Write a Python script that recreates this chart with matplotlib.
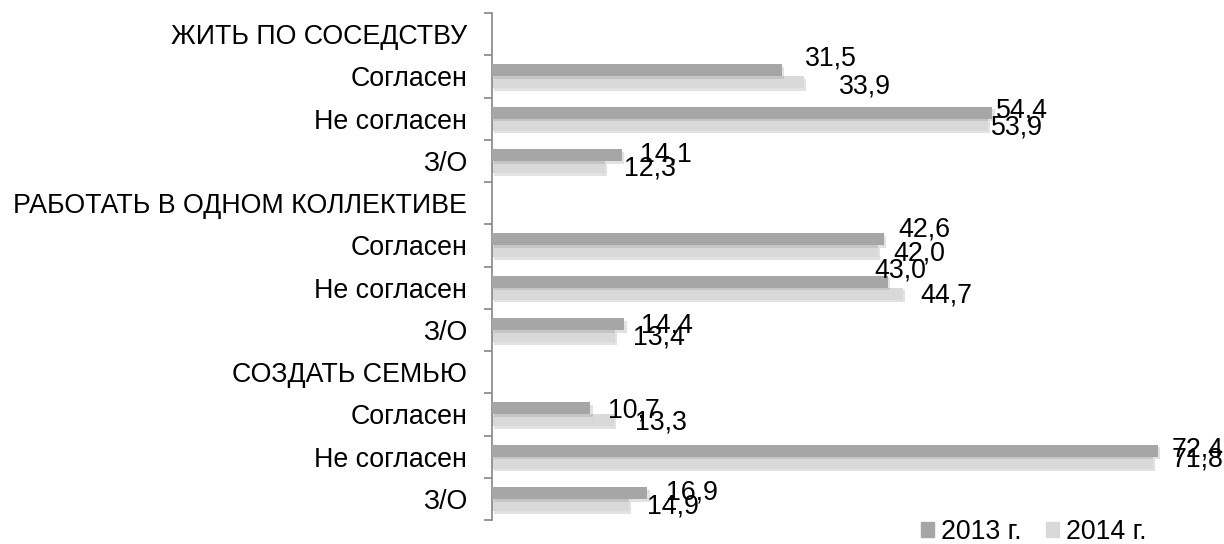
import numpy as np
import matplotlib
matplotlib.use('Agg')
import matplotlib.pyplot as plt
import matplotlib.patheffects as pe
from matplotlib.patches import Patch

plt.rcParams['font.family'] = ['Liberation Sans', 'DejaVu Sans']

categories = ['ЖИТЬ ПО СОСЕДСТВУ', 'Согласен', 'Не согласен', 'З/О',
              'РАБОТАТЬ В ОДНОМ КОЛЛЕКТИВЕ', 'Согласен', 'Не согласен', 'З/О',
              'СОЗДАТЬ СЕМЬЮ', 'Согласен', 'Не согласен', 'З/О']
v2013 = [np.nan, 31.5, 54.4, 14.1, np.nan, 42.6, 43.0, 14.4, np.nan, 10.7, 72.4, 16.9]
v2014 = [np.nan, 33.9, 53.9, 12.3, np.nan, 42.0, 44.7, 13.4, np.nan, 13.3, 71.8, 14.9]
series_names = ['2013 г.', '2014 г.']

# label nudges in pixels (x right, y up), only for rows with bars
dx13 = [23, 3, 18, 14, -13, 17, 18, 14, 19]
dy13 = [12, 2, 0, 10, 11, -2, -2, 1, 0]
dx14 = [35, 3, 19, 15, 17, 18, 21, 19, 18]
dy14 = [-4, -3, -2, -2, -2, -2, -2, 3, -2]

c13 = '#a6a6a6'
c14 = '#d9d9d9'
fs = 19.3

fig = plt.figure(figsize=(12.24, 5.44), dpi=100)
ax = fig.add_axes([492 / 1224, 24 / 544, 732 / 1224, 507 / 544])

y = np.arange(len(categories))
h = 0.284
shadow = [pe.SimplePatchShadow(offset=(1.5, -2), shadow_rgbFace='#7f7f7f', alpha=0.22), pe.Normal()]
b1 = ax.barh(y - h / 2, v2013, height=h, color=c13, zorder=3)
b2 = ax.barh(y + h / 2, v2014, height=h, color=c14, zorder=2)
for r in list(b1) + list(b2):
    r.set_path_effects(shadow)

ax.set_xlim(0, 732 / 9.2)
ax.set_ylim(len(categories) - 0.5, -0.5)

px = 0.72  # points per pixel
k = 0
for i in range(len(categories)):
    if np.isnan(v2013[i]):
        continue
    ax.annotate(f'{v2013[i]:.1f}'.replace('.', ','), (v2013[i], i - h / 2),
                xytext=(dx13[k] * px, dy13[k] * px), textcoords='offset points',
                ha='left', va='center', fontsize=fs, zorder=5)
    ax.annotate(f'{v2014[i]:.1f}'.replace('.', ','), (v2014[i], i + h / 2),
                xytext=(dx14[k] * px, dy14[k] * px), textcoords='offset points',
                ha='left', va='center', fontsize=fs, zorder=5)
    k += 1

ax.set_yticks(y)
ax.set_yticklabels(categories, fontsize=fs)
ax.tick_params(axis='y', which='major', length=0, pad=18)
ax.set_yticks(np.arange(len(categories) + 1) - 0.5, minor=True)
ax.tick_params(axis='y', which='minor', length=6, width=1.2, color='#868686', direction='out')
ax.set_xticks([])
for s in ['top', 'right', 'bottom']:
    ax.spines[s].set_visible(False)
ax.spines['left'].set_color('#868686')
ax.spines['left'].set_linewidth(1.2)

handles = [Patch(color=c13), Patch(color=c14)]
fig.legend(handles, series_names, loc='center left', bbox_to_anchor=(921 / 1224, 12 / 544),
           frameon=False, fontsize=fs, handlelength=0.5, handleheight=0.5,
           handletextpad=0.25, columnspacing=0.9, ncol=2, borderaxespad=0, borderpad=0)

fig.savefig('out.png', dpi=100)
